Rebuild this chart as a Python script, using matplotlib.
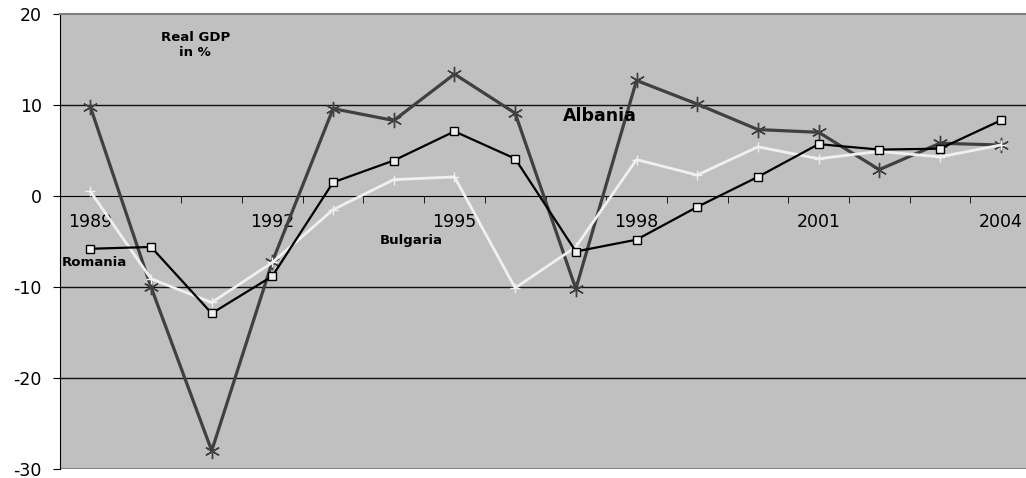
import numpy as np
import matplotlib.pyplot as plt

plt.rcParams['font.family'] = ['DejaVu Sans']
plt.rcParams['axes.unicode_minus'] = False

years = list(range(1989, 2005))
albania = [9.8, -10.0, -28.0, -7.2, 9.6, 8.3, 13.4, 9.1, -10.2, 12.7, 10.1, 7.3, 7.0, 2.9, 5.8, 5.6]
romania = [-5.8, -5.6, -12.9, -8.8, 1.5, 3.9, 7.1, 4.1, -6.1, -4.8, -1.2, 2.1, 5.7, 5.1, 5.2, 8.3]
bulgaria = [0.5, -9.1, -11.7, -7.3, -1.5, 1.8, 2.1, -10.1, -5.6, 4.0, 2.3, 5.4, 4.1, 4.9, 4.3, 5.6]
year_labels = ['1989', '1992', '1995', '1998', '2001', '2004']

x = np.arange(len(years))

fig = plt.figure(figsize=(10.26, 4.78), dpi=100)
ax = fig.add_axes([60 / 1026, 9 / 478, 971 / 1026, 455 / 478])
ax.set_facecolor('#c0c0c0')

# grid lines
for g in [10, -10, -20]:
    ax.axhline(g, color='#111111', lw=1.0, zorder=1)
ax.axhline(-30, color='#808080', lw=1.5, zorder=1)

ax.plot(x, albania, color='#404040', lw=2.3, marker=(6, 2, 0), ms=11, mew=1.0, zorder=3)
ax.plot(x, bulgaria, color='#f0f0f0', lw=2.0, marker='+', ms=7, mew=1.0, zorder=4)
ax.plot(x, romania, color='#000000', lw=1.6, marker='s', ms=6, mfc='#f0f0f0', mec='#000000', mew=1.0, zorder=5)

ax.set_xlim(-0.5, len(years) - 0.5)
ax.set_ylim(-30, 20)
ax.set_yticks([-30, -20, -10, 0, 10, 20])
ax.tick_params(axis='y', length=5, direction='out', labelsize=12.5, colors='black', pad=8)

ax.spines['bottom'].set_position(('data', 0))
ax.spines['bottom'].set_color('black')
ax.spines['top'].set_color('#808080')
ax.spines['top'].set_linewidth(1.5)
ax.spines['right'].set_visible(False)
ax.spines['left'].set_color('black')

ax.set_xticks(x[::3])
ax.set_xticklabels(year_labels)
ax.set_xticks(np.arange(0.5, len(years) - 1, 1), minor=True)
ax.tick_params(axis='x', which='major', length=0, labelsize=12.5, pad=12)
ax.tick_params(axis='x', which='minor', length=5, direction='out', color='black')

ax.text(1.73, 18.1, 'Real GDP\nin %', ha='center', va='top', fontsize=9.5,
        fontweight='bold', linespacing=1.15)
ax.text(7.78, 8.75, 'Albania', ha='left', va='center', fontsize=12.5, fontweight='bold')
ax.text(4.77, -4.85, 'Bulgaria', ha='left', va='center', fontsize=9.5, fontweight='bold')
ax.text(-0.47, -7.3, 'Romania', ha='left', va='center', fontsize=9.5, fontweight='bold')

fig.savefig('out.png', dpi=100)
